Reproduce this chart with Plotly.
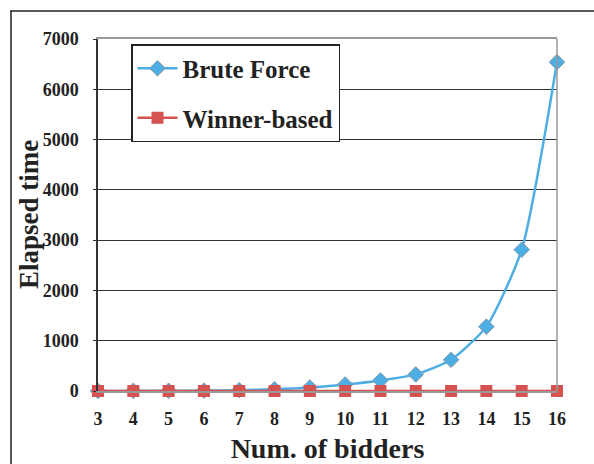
import plotly.graph_objects as go

bidders = [3, 4, 5, 6, 7, 8, 9, 10, 11, 12, 13, 14, 15, 16]
brute_force = [1, 2, 4, 8, 16, 35, 70, 130, 210, 330, 620, 1280, 2810, 6540]
winner_based = [0.5, 0.5, 0.5, 0.5, 0.5, 0.5, 0.5, 0.5, 0.5, 0.5, 0.5, 0.5, 0.5, 0.5]
y_ticks = [0, 1000, 2000, 3000, 4000, 5000, 6000, 7000]

BLUE = "#4DAEE3"
RED = "#D65250"
FONT = "Liberation Serif, Times New Roman, serif"

fig = go.Figure()
fig.add_trace(go.Scatter(
    x=bidders, y=brute_force, name="<b>Brute Force</b>", mode="lines+markers",
    line=dict(color=BLUE, width=2.5, shape="spline", smoothing=0.6),
    marker=dict(symbol="diamond", size=12, color=BLUE, line=dict(color="#8A9AA8", width=1)),
    legendgroup="a", cliponaxis=False,
))
fig.add_trace(go.Scatter(
    x=bidders, y=winner_based, name="<b>Winner-based</b>", mode="lines+markers",
    line=dict(color=RED, width=2.5),
    marker=dict(symbol="square", size=12, color=RED),
    legendgroup="b", cliponaxis=False,
))

L, R, T, B = 98, 37, 39, 73
W, H = 594, 464
pw, ph = W - L - R, H - T - B

def px(x):
    return (x - L) / pw

def py(y):
    return (H - B - y) / ph

shapes = [
    dict(type="line", xref="paper", yref="paper", x0=px(10), x1=px(600), y0=py(11), y1=py(11),
         line=dict(color="#222222", width=1.5)),
    dict(type="line", xref="paper", yref="paper", x0=px(11), x1=px(11), y0=py(11), y1=py(470),
         line=dict(color="#222222", width=1.5)),
    dict(type="line", xref="paper", yref="paper", x0=1, x1=1, y0=0, y1=1,
         line=dict(color="#999999", width=1.5)),
]

fig.update_layout(
    width=W, height=H,
    margin=dict(l=L, r=R, t=T, b=B, autoexpand=False),
    paper_bgcolor="white", plot_bgcolor="white",
    font=dict(family=FONT, color="#222222"),
    shapes=shapes,
    showlegend=True,
    legend=dict(
        x=px(131), y=py(44), xanchor="left", yanchor="top",
        bgcolor="white", bordercolor="#222222", borderwidth=1.5,
        font=dict(family=FONT, size=25, color="#222222"),
        traceorder="grouped", tracegroupgap=14,
        itemwidth=40,
    ),
    annotations=[dict(
        text="<b>Elapsed time</b>", xref="paper", yref="paper", x=px(29), y=0.5,
        textangle=-90, showarrow=False, xanchor="center", yanchor="middle",
        font=dict(family=FONT, size=27, color="#222222"),
    )],
    xaxis=dict(
        range=[3, 16], tickmode="array", tickvals=bidders, ticktext=[f"<b>{b}</b>" for b in bidders],
        showgrid=False, zeroline=False, showline=True, linecolor="#999999", linewidth=1.5,
        mirror=True, ticks="", ticklabelstandoff=11, automargin=False,
        tickfont=dict(family=FONT, size=18, color="#222222"),
        title=dict(text="<b>Num. of bidders</b>", font=dict(family=FONT, size=28, color="#222222"), standoff=11),
    ),
    yaxis=dict(
        range=[0, 7000], tickmode="array", tickvals=y_ticks, ticktext=[f"<b>{v}</b>" for v in y_ticks],
        showgrid=True, gridcolor="#333333", gridwidth=1, zeroline=False,
        showline=True, linecolor="#333333", linewidth=1.5, automargin=False,
        ticks="outside", ticklen=3, tickcolor="#333333", ticklabelstandoff=11,
        tickfont=dict(family=FONT, size=18, color="#222222"),
    ),
)

fig.write_html("out.html", config={"displayModeBar": False},
               post_script="document.body.style.margin='0';")
